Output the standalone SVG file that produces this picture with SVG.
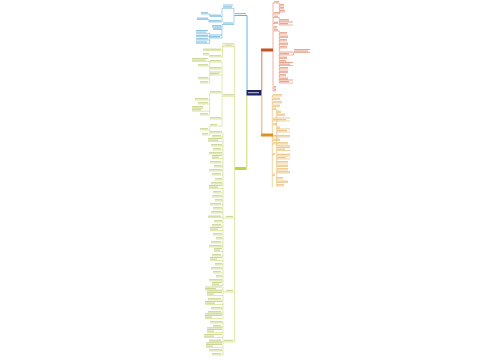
<svg xmlns="http://www.w3.org/2000/svg" width="500" height="360" viewBox="0 0 500 360">
<style>
.t{stroke-width:1.2;fill:none}
.u{stroke-width:.5;fill:none}
.b .t{stroke:#8cc2de}.b .u{stroke:#3d9fd4}
.l .t{stroke:#cdd597}.l .u{stroke:#bfd255}
.o .t{stroke:#e6a58e}.o .u{stroke:#dc6a45}
.y .t{stroke:#ebc98e}.y .u{stroke:#e3a640}
.cb{stroke:#4aa6d8;stroke-width:.5;fill:none}
.cl{stroke:#c2d45e;stroke-width:.5;fill:none}
.co{stroke:#d96a45;stroke-width:.5;fill:none}
.cy{stroke:#e3a640;stroke-width:.5;fill:none}
</style>
<rect width="500" height="360" fill="#fff"/>
<g id="connectors">
<path d="M247 90V15.5" stroke="#3aa0d5" stroke-width=".8" fill="none"/>
<path d="M246.8 95.5V167" stroke="#b9d24a" stroke-width=".8" fill="none"/>
<path d="M261.8 90.5V51.5" stroke="#cf5a2c" stroke-width=".8" fill="none"/>
<path d="M261.8 95.5V133.5" stroke="#de9a2e" stroke-width=".8" fill="none"/>
<path class="cb" d="M234 8.3V24.5M222 8.3V22M222 24.5V38M209.7 14V16.5M209 19.5V22M209.7 33.3V43.3"/>
<path class="cl" d="M234.5 46V342M222.5 46V57M209.7 55V57M222 62V126M209.7 61.5V83M209.7 93V115M209.7 126V135M223 133V285.5M223 287V318.5M223 321V355"/>
<path class="co" d="M273 3V91M279.3 3V12M279.3 17.5V25M279.3 31V83M293.5 52.5V55"/>
<path class="cy" d="M272.3 95V187M276.7 109.5V186"/>
</g>
<g id="center"><rect x="246.5" y="90" width="15" height="5.5" fill="#1c2562"/><path d="M248 92.7H259" stroke="#c8cce0" stroke-width="1"/></g>
<g id="nb" class="b"><path class="t" d="M235 13.6H246"/><path class="u" d="M234.5 15.5H247" style="stroke-width:.8"/></g>
<g id="b1" class="b"><path class="t" d="M223 5H233M223 6.8H232"/><path class="u" d="M222 8.3H234"/></g>
<g id="b2" class="b"><path class="t" d="M223 23H233"/><path class="u" d="M222 24.5H234"/></g>
<g id="b3" class="b"><path class="t" d="M201 12.7H208"/><path class="u" d="M201 14H209.7"/></g>
<g id="b4" class="b"><path class="t" d="M210 15.2H221"/><path class="u" d="M210 16.5H222"/></g>
<g id="b5" class="b"><path class="t" d="M197 18.2H208"/><path class="u" d="M197 19.5H209"/></g>
<g id="b6" class="b"><path class="t" d="M209 20.7H221"/><path class="u" d="M209 22H222"/></g>
<g id="b7" class="b"><path class="t" d="M212 25.7H221"/><path class="u" d="M212 27H222"/></g>
<g id="b8" class="b"><path class="t" d="M213 28.2H221"/><path class="u" d="M213 29.5H222"/></g>
<g id="b9" class="b"><path class="t" d="M210 35H222M210 36.7H220"/><path class="u" d="M210 38H222"/></g>
<g id="b10" class="b"><path class="t" d="M196 30.5H208M196 32H206"/><path class="u" d="M196 33.3H209.7"/></g>
<g id="b11" class="b"><path class="t" d="M196 35.3H208"/><path class="u" d="M196 36.6H209.7"/></g>
<g id="b12" class="b"><path class="t" d="M196 38.7H208"/><path class="u" d="M196 40H209.7"/></g>
<g id="b13" class="b"><path class="t" d="M196 42H207"/><path class="u" d="M196 43.3H209.7"/></g>
<g id="nl"><rect x="235" y="167" width="11.5" height="3" fill="#bcd640"/></g>
<g id="c1"><rect x="223" y="43.3" width="11" height="3.6" fill="#fcfce6" stroke="#cfd57a" stroke-width=".6"/><path d="M224.5 45.1H232.5" stroke="#c8cc9a" stroke-width="1"/></g>
<g id="l1" class="l"><path class="t" d="M203 49.2H221"/><path class="u" d="M203 50.5H222.5"/></g>
<g id="l2" class="l"><path class="t" d="M210 55.7H221"/><path class="u" d="M210 57H222.5"/></g>
<g id="l3" class="l"><path class="t" d="M203 53.7H209"/><path class="u" d="M203 55H209.7"/></g>
<g id="c2" class="l"><path class="t" d="M223 94.8H234"/><path class="u" d="M222 96.3H234.5"/></g>
<g id="l4" class="l"><path class="t" d="M210 60.7H221"/><path class="u" d="M210 62H222"/></g>
<g id="l5" class="l"><path class="t" d="M210 67.7H221"/><path class="u" d="M210 69H222"/></g>
<g id="l6" class="l"><path class="t" d="M210 72H221M210 73.7H219"/><path class="u" d="M210 75H222"/></g>
<g id="l7" class="l"><path class="t" d="M210 91.7H221"/><path class="u" d="M210 93H222"/></g>
<g id="l8" class="l"><path class="t" d="M210 117.7H221"/><path class="u" d="M210 119H222"/></g>
<g id="l9" class="l"><path class="t" d="M210 124.7H217"/><path class="u" d="M210 126H222"/></g>
<g id="l10" class="l"><path class="t" d="M192 58.5H208M192 60.2H206"/><path class="u" d="M192 61.5H209.7"/></g>
<g id="l11" class="l"><path class="t" d="M198 64.7H208"/><path class="u" d="M198 66H209.7"/></g>
<g id="l12" class="l"><path class="t" d="M198 77.7H208"/><path class="u" d="M198 79H209.7"/></g>
<g id="l13" class="l"><path class="t" d="M200 81.7H208"/><path class="u" d="M200 83H209.7"/></g>
<g id="l14" class="l"><path class="t" d="M195 98.7H208"/><path class="u" d="M195 100H209.7"/></g>
<g id="l15" class="l"><path class="t" d="M198 102.7H208"/><path class="u" d="M198 104H209.7"/></g>
<g id="l16" class="l"><path class="t" d="M192 106.5H203M192 108.2H203M192 109.9H201"/><path class="u" d="M192 111.2H209.7"/></g>
<g id="l17" class="l"><path class="t" d="M200 113.7H208"/><path class="u" d="M200 115H209.7"/></g>
<g id="l18" class="l"><path class="t" d="M200 128.7H208"/><path class="u" d="M200 130H209.7"/></g>
<g id="l19" class="l"><path class="t" d="M202 133.7H208"/><path class="u" d="M202 135H209.7"/></g>
<g id="c3" class="l"><path class="t" d="M226 216.5H233"/><path class="u" d="M223 218H234.5"/></g>
<g id="c4" class="l"><path class="t" d="M226 290.5H233"/><path class="u" d="M223 292H234.5"/></g>
<g id="c5" class="l"><path class="t" d="M224 340.5H233"/><path class="u" d="M223 342H234.5"/></g>
<g id="lc1" class="l"><path class="t" d="M210 131.7H222"/><path class="u" d="M210 133H223"/></g>
<g id="lc2" class="l"><path class="t" d="M212 135.7H221"/><path class="u" d="M212 137H223"/></g>
<g id="lc3" class="l"><path class="t" d="M208 138.5H222M208 140.2H218"/><path class="u" d="M208 141.5H223"/></g>
<g id="lc4" class="l"><path class="t" d="M211 144.7H222"/><path class="u" d="M211 146H223"/></g>
<g id="lc5" class="l"><path class="t" d="M213 148.7H221"/><path class="u" d="M213 150H223"/></g>
<g id="lc6" class="l"><path class="t" d="M209 152.7H222"/><path class="u" d="M209 154H223"/></g>
<g id="lc7" class="l"><path class="t" d="M212 155.5H222M212 157.2H219"/><path class="u" d="M212 158.5H223"/></g>
<g id="lc8" class="l"><path class="t" d="M210 161.7H221"/><path class="u" d="M210 163H223"/></g>
<g id="lc9" class="l"><path class="t" d="M214 165.7H222"/><path class="u" d="M214 167H223"/></g>
<g id="lc10" class="l"><path class="t" d="M209 169.7H222"/><path class="u" d="M209 171H223"/></g>
<g id="lc11" class="l"><path class="t" d="M212 173.7H221"/><path class="u" d="M212 175H223"/></g>
<g id="lc12" class="l"><path class="t" d="M215 178.7H222"/><path class="u" d="M215 180H223"/></g>
<g id="lc13" class="l"><path class="t" d="M211 182.7H222"/><path class="u" d="M211 184H223"/></g>
<g id="lc14" class="l"><path class="t" d="M209 185.5H222M209 187.2H218"/><path class="u" d="M209 188.5H223"/></g>
<g id="lc15" class="l"><path class="t" d="M213 191.7H221"/><path class="u" d="M213 193H223"/></g>
<g id="lc16" class="l"><path class="t" d="M212 195.7H222"/><path class="u" d="M212 197H223"/></g>
<g id="lc17" class="l"><path class="t" d="M215 199.7H222"/><path class="u" d="M215 201H223"/></g>
<g id="lc18" class="l"><path class="t" d="M210 203.7H221"/><path class="u" d="M210 205H223"/></g>
<g id="lc19" class="l"><path class="t" d="M213 207.7H222"/><path class="u" d="M213 209H223"/></g>
<g id="lc20" class="l"><path class="t" d="M211 211.7H222"/><path class="u" d="M211 213H223"/></g>
<g id="lc21" class="l"><path class="t" d="M208 216.2H221"/><path class="u" d="M208 217.5H223"/></g>
<g id="lc22" class="l"><path class="t" d="M214 220.7H222"/><path class="u" d="M214 222H223"/></g>
<g id="lc23" class="l"><path class="t" d="M212 224.7H221"/><path class="u" d="M212 226H223"/></g>
<g id="lc24" class="l"><path class="t" d="M210 227.5H222M210 229.2H218"/><path class="u" d="M210 230.5H223"/></g>
<g id="lc25" class="l"><path class="t" d="M213 233.7H222"/><path class="u" d="M213 235H223"/></g>
<g id="lc26" class="l"><path class="t" d="M216 237.7H222"/><path class="u" d="M216 239H223"/></g>
<g id="lc27" class="l"><path class="t" d="M211 241.7H221"/><path class="u" d="M211 243H223"/></g>
<g id="lc28" class="l"><path class="t" d="M209 245.7H222"/><path class="u" d="M209 247H223"/></g>
<g id="lc29" class="l"><path class="t" d="M214 248.5H222M214 250.2H220"/><path class="u" d="M214 251.5H223"/></g>
<g id="lc30" class="l"><path class="t" d="M212 254.7H221"/><path class="u" d="M212 256H223"/></g>
<g id="lc31" class="l"><path class="t" d="M210 257.5H222M210 259.2H217"/><path class="u" d="M210 260.5H223"/></g>
<g id="lc32" class="l"><path class="t" d="M215 263.7H222"/><path class="u" d="M215 265H223"/></g>
<g id="lc33" class="l"><path class="t" d="M211 267.7H222"/><path class="u" d="M211 269H223"/></g>
<g id="lc34" class="l"><path class="t" d="M213 271.7H221"/><path class="u" d="M213 273H223"/></g>
<g id="lc35" class="l"><path class="t" d="M216 275.7H222"/><path class="u" d="M216 277H223"/></g>
<g id="lc36" class="l"><path class="t" d="M209 279.7H222"/><path class="u" d="M209 281H223"/></g>
<g id="lc37" class="l"><path class="t" d="M212 282.5H222M212 284.2H219"/><path class="u" d="M212 285.5H223"/></g>
<g id="lc38" class="l"><path class="t" d="M205 287H222M205 288.7H216"/><path class="u" d="M205 290H223"/></g>
<g id="lc39" class="l"><path class="t" d="M207 290.8H222M207 292.5H222M207 294.2H214"/><path class="u" d="M207 295.5H223"/></g>
<g id="lc40" class="l"><path class="t" d="M208 298.7H221"/><path class="u" d="M208 300H223"/></g>
<g id="lc41" class="l"><path class="t" d="M205 301.5H222M205 303.2H215"/><path class="u" d="M205 304.5H223"/></g>
<g id="lc42" class="l"><path class="t" d="M211 307.7H222"/><path class="u" d="M211 309H223"/></g>
<g id="lc43" class="l"><path class="t" d="M208 311.7H221"/><path class="u" d="M208 313H223"/></g>
<g id="lc44" class="l"><path class="t" d="M205 313.8H222M205 315.5H222M205 317.2H212"/><path class="u" d="M205 318.5H223"/></g>
<g id="lc45" class="l"><path class="t" d="M210 321.7H222"/><path class="u" d="M210 323H223"/></g>
<g id="lc46" class="l"><path class="t" d="M213 325.7H221"/><path class="u" d="M213 327H223"/></g>
<g id="lc47" class="l"><path class="t" d="M207 327.8H222M207 329.5H222M207 331.2H214"/><path class="u" d="M207 332.5H223"/></g>
<g id="lc48" class="l"><path class="t" d="M204 334.5H222M204 336.2H214"/><path class="u" d="M204 337.5H223"/></g>
<g id="lc49" class="l"><path class="t" d="M209 340.2H221"/><path class="u" d="M209 341.5H223"/></g>
<g id="lc50" class="l"><path class="t" d="M206 342.8H222M206 344.5H222M206 346.2H213"/><path class="u" d="M206 347.5H223"/></g>
<g id="lc51" class="l"><path class="t" d="M209 349.7H222"/><path class="u" d="M209 351H223"/></g>
<g id="lc52" class="l"><path class="t" d="M212 353.7H221"/><path class="u" d="M212 355H223"/></g>
<g id="no1"><rect x="261" y="48.5" width="12" height="3" fill="#c9501f"/></g>
<g id="o1" class="o"><path class="t" d="M274 1.7H279"/><path class="u" d="M273 3H279"/></g>
<g id="o2" class="o"><path class="t" d="M274 12.7H280"/><path class="u" d="M273 14H280"/></g>
<g id="o3" class="o"><path class="t" d="M274 16.2H278"/><path class="u" d="M273 17.5H279.3"/></g>
<g id="o4" class="o"><path class="t" d="M274 22.2H278"/><path class="u" d="M273 23.5H278"/></g>
<g id="o5" class="o"><path class="t" d="M274 26.7H277"/><path class="u" d="M273 28H277"/></g>
<g id="o6" class="o"><path class="t" d="M274 29.7H278"/><path class="u" d="M273 31H279.3"/></g>
<g id="o7" class="o"><path class="t" d="M274 86.7H276"/><path class="u" d="M273 88H276"/></g>
<g id="o8" class="o"><path class="t" d="M274 89.7H276"/><path class="u" d="M273 91H276"/></g>
<g id="o9" class="o"><path class="t" d="M280 4.7H284"/><path class="u" d="M279.3 6H284"/></g>
<g id="o10" class="o"><path class="t" d="M280 7.7H284"/><path class="u" d="M279.3 9H284"/></g>
<g id="o11" class="o"><path class="t" d="M280 10.7H285"/><path class="u" d="M279.3 12H285"/></g>
<g id="o12" class="o"><path class="t" d="M280 19.7H289"/><path class="u" d="M279.3 21H289"/></g>
<g id="o13" class="o"><path class="t" d="M280 22H293M280 23.7H288"/><path class="u" d="M279.3 25H293"/></g>
<g id="o14" class="o"><path class="t" d="M280 32.7H287"/><path class="u" d="M279.3 34H287"/></g>
<g id="o15" class="o"><path class="t" d="M280 36.2H288"/><path class="u" d="M279.3 37.5H288"/></g>
<g id="o16" class="o"><path class="t" d="M280 39.7H287"/><path class="u" d="M279.3 41H287"/></g>
<g id="o17" class="o"><path class="t" d="M280 43.2H288"/><path class="u" d="M279.3 44.5H288"/></g>
<g id="o18" class="o"><path class="t" d="M280 46.7H287"/><path class="u" d="M279.3 48H287"/></g>
<g id="o19" class="o"><path class="t" d="M280 52H293M280 53.7H289"/><path class="u" d="M279.3 55H293.5"/></g>
<g id="o20" class="o"><path class="t" d="M294 49.5H310M294 51.2H308"/><path class="u" d="M293.5 52.5H310"/></g>
<g id="o21" class="o"><path class="t" d="M280 57.2H287"/><path class="u" d="M279.3 58.5H287"/></g>
<g id="o22" class="o"><path class="t" d="M280 60.7H286"/><path class="u" d="M279.3 62H286"/></g>
<g id="o23" class="o"><path class="t" d="M280 62.5H293M280 64.2H290"/><path class="u" d="M279.3 65.5H293"/></g>
<g id="o24" class="o"><path class="t" d="M280 67.7H288"/><path class="u" d="M279.3 69H288"/></g>
<g id="o25" class="o"><path class="t" d="M280 71.2H288"/><path class="u" d="M279.3 72.5H288"/></g>
<g id="o26" class="o"><path class="t" d="M280 74.7H286"/><path class="u" d="M279.3 76H286"/></g>
<g id="o27" class="o"><path class="t" d="M280 78.2H288"/><path class="u" d="M279.3 79.5H288"/></g>
<g id="o28" class="o"><path class="t" d="M280 80H293M280 81.7H289"/><path class="u" d="M279.3 83H293"/></g>
<g id="no2"><rect x="261" y="133.5" width="12" height="3" fill="#dd921f"/></g>
<g id="y1" class="y"><path class="t" d="M273 94.7H282"/><path class="u" d="M272.3 96H282"/></g>
<g id="y2" class="y"><path class="t" d="M273 98.2H280"/><path class="u" d="M272.3 99.5H280"/></g>
<g id="y3" class="y"><path class="t" d="M273 101.7H282"/><path class="u" d="M272.3 103H282"/></g>
<g id="y4" class="y"><path class="t" d="M273 105.2H280"/><path class="u" d="M272.3 106.5H280"/></g>
<g id="y5" class="y"><path class="t" d="M273 108.2H276"/><path class="u" d="M272.3 109.5H276.7"/></g>
<g id="y6" class="y"><path class="t" d="M273 118H290M273 119.7H286"/><path class="u" d="M272.3 121H290"/></g>
<g id="y7" class="y"><path class="t" d="M273 123.7H277"/><path class="u" d="M272.3 125H277"/></g>
<g id="y8" class="y"><path class="t" d="M273 135.7H290"/><path class="u" d="M272.3 137H290"/></g>
<g id="y9" class="y"><path class="t" d="M273 139.2H280"/><path class="u" d="M272.3 140.5H280"/></g>
<g id="y10" class="y"><path class="t" d="M273 142.7H288"/><path class="u" d="M272.3 144H288"/></g>
<g id="y11" class="y"><path class="t" d="M273 153.7H275"/><path class="u" d="M272.3 155H275"/></g>
<g id="y12" class="y"><path class="t" d="M273 174.2H275"/><path class="u" d="M272.3 175.5H275"/></g>
<g id="y13" class="y"><path class="t" d="M277 111.2H281"/><path class="u" d="M276.7 112.5H281"/></g>
<g id="y14" class="y"><path class="t" d="M277 114.2H285"/><path class="u" d="M276.7 115.5H285"/></g>
<g id="y15" class="y"><path class="t" d="M277 127.2H280"/><path class="u" d="M276.7 128.5H280"/></g>
<g id="y16" class="y"><path class="t" d="M277 129H290M277 130.7H287"/><path class="u" d="M276.7 132H290"/></g>
<g id="y17" class="y"><path class="t" d="M277 145.8H290M277 147.5H290M277 149.2H285"/><path class="u" d="M276.7 150.5H290"/></g>
<g id="y18" class="y"><path class="t" d="M277 154.3H290M277 156H290M277 157.7H286"/><path class="u" d="M276.7 159H290"/></g>
<g id="y19" class="y"><path class="t" d="M277 161.7H288"/><path class="u" d="M276.7 163H288"/></g>
<g id="y20" class="y"><path class="t" d="M277 165.2H288"/><path class="u" d="M276.7 166.5H288"/></g>
<g id="y21" class="y"><path class="t" d="M277 168.7H288"/><path class="u" d="M276.7 170H288"/></g>
<g id="y22" class="y"><path class="t" d="M277 171.7H290"/><path class="u" d="M276.7 173H290"/></g>
<g id="y23" class="y"><path class="t" d="M277 177.7H283"/><path class="u" d="M276.7 179H283"/></g>
<g id="y24" class="y"><path class="t" d="M277 181.2H288"/><path class="u" d="M276.7 182.5H288"/></g>
<g id="y25" class="y"><path class="t" d="M277 184.7H284"/><path class="u" d="M276.7 186H284"/></g>
</svg>
